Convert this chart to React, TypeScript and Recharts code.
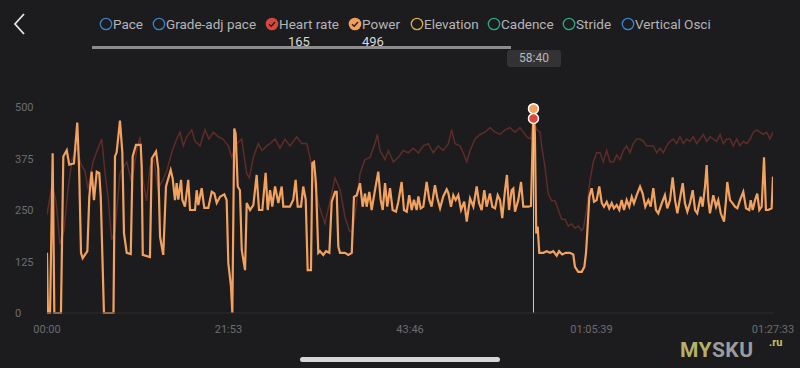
import React from "react";
import {
  LineChart,
  Line,
  XAxis,
  YAxis,
  ReferenceLine,
  ReferenceDot,
} from "recharts";

// [seconds, watts]
const powerSeries: [number, number][] = [
  [0, 146], [7, 0], [22, 0], [41, 388], [53, 0], [101, 0], [118, 380], [143, 395],
  [161, 360], [195, 363], [219, 462], [232, 355], [246, 146], [258, 133], [292, 150],
  [306, 282], [323, 343], [340, 274], [360, 343], [378, 340], [389, 282], [412, 0],
  [481, 0], [492, 380], [504, 390], [528, 467], [545, 390], [557, 194], [577, 146],
  [606, 143], [620, 380], [644, 408], [678, 408], [685, 355], [693, 141], [745, 136],
  [758, 375], [789, 392], [805, 350], [818, 185], [841, 141], [861, 307], [895, 347],
  [909, 327], [926, 274], [938, 315], [950, 275], [970, 323], [979, 275], [998, 258],
  [1022, 323], [1035, 250], [1071, 250], [1083, 298], [1095, 262], [1119, 303],
  [1138, 255], [1167, 255], [1192, 294], [1211, 290], [1228, 267], [1252, 282],
  [1283, 288], [1300, 274], [1312, 121], [1331, 65], [1341, 0], [1355, 448],
  [1365, 435], [1380, 307], [1396, 298], [1409, 153], [1433, 104], [1445, 267],
  [1469, 250], [1493, 262], [1517, 335], [1534, 250], [1558, 250], [1582, 340],
  [1597, 250], [1614, 298], [1630, 258], [1650, 307], [1674, 267], [1698, 307],
  [1710, 258], [1746, 258], [1758, 258], [1782, 275], [1799, 323], [1814, 258],
  [1838, 258], [1854, 307], [1872, 275], [1886, 104], [1910, 104], [1920, 364],
  [1932, 367], [1946, 315], [1963, 146], [1975, 150], [1999, 141], [2019, 150],
  [2043, 146], [2060, 270], [2084, 294], [2096, 294], [2108, 161], [2120, 146],
  [2156, 146], [2180, 141], [2205, 146], [2221, 282], [2241, 286], [2265, 315],
  [2284, 258], [2301, 290], [2313, 258], [2332, 294], [2349, 250], [2373, 298],
  [2397, 343], [2414, 275], [2429, 250], [2446, 315], [2462, 258], [2482, 303],
  [2501, 250], [2525, 246], [2542, 270], [2566, 318], [2583, 250], [2603, 246],
  [2621, 286], [2639, 250], [2655, 275], [2675, 250], [2687, 283], [2704, 254],
  [2723, 258], [2747, 318], [2766, 275], [2783, 258], [2807, 310], [2824, 279],
  [2844, 254], [2867, 283], [2892, 300], [2904, 291], [2923, 258], [2940, 286],
  [2957, 274], [2976, 286], [2996, 250], [3019, 270], [3037, 222], [3061, 278],
  [3085, 258], [3109, 307], [3126, 267], [3145, 250], [3164, 298], [3181, 258],
  [3205, 290], [3222, 258], [3242, 254], [3261, 286], [3278, 274], [3294, 230],
  [3314, 298], [3328, 335], [3343, 250], [3362, 298], [3374, 302], [3386, 246],
  [3410, 274], [3430, 318], [3446, 258], [3482, 258], [3502, 260], [3520, 496],
  [3530, 436], [3540, 193], [3550, 210], [3562, 146], [3591, 146], [3616, 150],
  [3640, 146], [3663, 150], [3688, 139], [3705, 150], [3728, 142], [3753, 146],
  [3784, 146], [3808, 142], [3820, 112], [3844, 100], [3869, 100], [3888, 112],
  [3900, 146], [3909, 194], [3924, 282], [3941, 303], [3958, 270], [3977, 274],
  [3996, 307], [4014, 267], [4030, 258], [4050, 270], [4068, 254], [4086, 267],
  [4102, 254], [4122, 262], [4141, 250], [4158, 274], [4175, 250], [4194, 274],
  [4213, 258], [4231, 282], [4247, 266], [4267, 286], [4291, 307], [4310, 290],
  [4329, 258], [4351, 274], [4368, 258], [4387, 303], [4406, 250], [4423, 242],
  [4448, 266], [4471, 286], [4488, 254], [4508, 274], [4527, 329], [4544, 274],
  [4561, 242], [4580, 278], [4600, 315], [4616, 266], [4633, 246], [4652, 266],
  [4672, 298], [4689, 250], [4705, 242], [4730, 282], [4744, 258], [4761, 307],
  [4773, 359], [4785, 274], [4797, 242], [4821, 286], [4841, 258], [4857, 274],
  [4875, 242], [4899, 222], [4913, 274], [4922, 318], [4942, 274], [4961, 266],
  [4978, 258], [4995, 254], [5014, 274], [5038, 294], [5058, 254], [5081, 250],
  [5092, 274], [5106, 250], [5123, 274], [5139, 290], [5154, 250], [5171, 258],
  [5188, 378], [5202, 250], [5219, 250], [5243, 254], [5253, 331],
];

// [seconds, bpm]
const heartSeries: [number, number][] = [
  [0, 123], [36, 136], [65, 129], [94, 110], [123, 116], [152, 134], [181, 147],
  [217, 152], [246, 145], [275, 142], [297, 134], [333, 146], [369, 152], [396, 156],
  [420, 141], [441, 131], [468, 112], [492, 116], [528, 141], [577, 146], [613, 137],
  [649, 151], [673, 157], [695, 138], [721, 129], [745, 144], [774, 147], [803, 134],
  [837, 138], [866, 142], [902, 150], [938, 156], [962, 159], [986, 153], [1011, 157],
  [1047, 160], [1071, 155], [1107, 153], [1143, 160], [1172, 156], [1203, 159],
  [1239, 157], [1273, 156], [1312, 153], [1336, 148], [1373, 154], [1409, 156],
  [1445, 141], [1464, 139], [1493, 148], [1529, 154], [1556, 151], [1590, 153],
  [1614, 154], [1650, 156], [1686, 152], [1722, 156], [1758, 153], [1807, 157],
  [1843, 154], [1879, 154], [1903, 148], [1927, 139], [1963, 128], [2011, 119],
  [2048, 129], [2084, 139], [2120, 134], [2156, 122], [2187, 116], [2212, 115],
  [2241, 129], [2265, 141], [2301, 147], [2337, 148], [2373, 154], [2390, 158],
  [2409, 151], [2446, 147], [2470, 151], [2506, 146], [2542, 148], [2578, 151],
  [2614, 150], [2650, 152], [2687, 150], [2723, 153], [2759, 154], [2795, 150],
  [2831, 153], [2867, 151], [2904, 154], [2928, 160], [2952, 154], [2988, 153],
  [3012, 150], [3037, 146], [3061, 151], [3097, 156], [3133, 158], [3169, 159],
  [3205, 161], [3242, 159], [3278, 158], [3314, 160], [3350, 161], [3386, 159],
  [3422, 161], [3471, 157], [3500, 156], [3520, 165], [3543, 160], [3567, 159],
  [3584, 151], [3603, 144], [3627, 132], [3652, 129], [3676, 129], [3700, 125],
  [3724, 121], [3748, 121], [3772, 118], [3796, 119], [3820, 117], [3844, 118],
  [3869, 116], [3881, 117], [3905, 125], [3929, 138], [3953, 146], [3977, 150],
  [4001, 150], [4025, 146], [4050, 151], [4074, 146], [4098, 146], [4122, 149],
  [4146, 147], [4170, 151], [4194, 153], [4218, 150], [4242, 154], [4267, 156],
  [4291, 156], [4315, 155], [4339, 153], [4363, 153], [4387, 153], [4412, 150],
  [4435, 152], [4459, 150], [4484, 153], [4508, 155], [4532, 156], [4556, 154],
  [4580, 157], [4604, 154], [4628, 156], [4652, 155], [4676, 157], [4701, 154],
  [4725, 156], [4749, 158], [4773, 155], [4797, 157], [4821, 156], [4845, 155],
  [4870, 158], [4893, 154], [4918, 156], [4942, 156], [4966, 153], [4990, 156],
  [5014, 153], [5038, 155], [5063, 154], [5087, 156], [5111, 159], [5135, 160],
  [5159, 159], [5183, 158], [5207, 159], [5231, 156], [5253, 159],
];

const timeTicks = [0, 1313, 2627, 3940, 5253];
const timeLabels = ["00:00", "21:53", "43:46", "01:05:39", "01:27:33"];
const wattTicks = [0, 125, 250, 375, 500];

const cursorTime = 3520;
const cursorLabel = "58:40";
const cursorPower = 496;
const cursorHeart = 165;

type LegendItem = { name: string; color: string; checked: boolean; left: number };
const legendItems: LegendItem[] = [
  { name: "Pace", color: "#3b82c4", checked: false, left: 99 },
  { name: "Grade-adj pace", color: "#3b82c4", checked: false, left: 152 },
  { name: "Heart rate", color: "#d9463c", checked: true, left: 265 },
  { name: "Power", color: "#f0a05a", checked: true, left: 348 },
  { name: "Elevation", color: "#e0b03c", checked: false, left: 410 },
  { name: "Cadence", color: "#2fa87c", checked: false, left: 487 },
  { name: "Stride", color: "#2fa87c", checked: false, left: 562 },
  { name: "Vertical Osci", color: "#3a84d6", checked: false, left: 621 },
];

const powerData = powerSeries.map(([t, w]) => ({ t, w }));
const heartData = heartSeries.map(([t, bpm]) => ({ t, bpm }));

const font = "Roboto, 'Noto Sans', sans-serif";
const BG = "#1c1c1e";

function YTick(props: any) {
  const { y, payload } = props;
  return (
    <text x={15} y={y} dy={4} fill="#6c6c6e" fontSize={11} fontFamily={font} textAnchor="start">
      {payload.value}
    </text>
  );
}

function LegendDot({ item }: { item: LegendItem }) {
  return (
    <svg width={14} height={14} style={{ position: "absolute", left: item.left, top: 17 }}>
      {item.checked ? (
        <>
          <circle cx={7} cy={7} r={6.3} fill={item.color} />
          <polyline points="4,7.2 6.2,9.3 10,5" fill="none" stroke="#2a1a14" strokeWidth={1.3} />
        </>
      ) : (
        <circle cx={7} cy={7} r={5.7} fill="none" stroke={item.color} strokeWidth={1.3} />
      )}
    </svg>
  );
}

export default function App() {
  return (
    <div
      style={{
        position: "absolute",
        left: 0,
        top: 0,
        width: 800,
        height: 368,
        background: BG,
        overflow: "hidden",
        fontFamily: font,
      }}
    >
      {/* back chevron */}
      <svg width={20} height={24} style={{ position: "absolute", left: 10, top: 12 }}>
        <polyline points="14,2 5,12 14,22" fill="none" stroke="#e6e6e6" strokeWidth={1.8} />
      </svg>

      {legendItems.map((item) => (
        <React.Fragment key={item.name}>
          <LegendDot item={item} />
          <div
            style={{
              position: "absolute",
              left: item.left + 14,
              top: 15,
              fontSize: 13.5,
              color: "#b4b4b6",
              whiteSpace: "nowrap",
              lineHeight: "18px",
            }}
          >
            {item.name}
          </div>
        </React.Fragment>
      ))}

      <div style={{ position: "absolute", left: 288, top: 34, fontSize: 13, color: "#d8d8d8" }}>
        {cursorHeart}
      </div>
      <div style={{ position: "absolute", left: 362, top: 34, fontSize: 13, color: "#d8d8d8" }}>
        {cursorPower}
      </div>

      {/* range slider */}
      <div
        style={{
          position: "absolute",
          left: 92,
          top: 46,
          width: 419,
          height: 3,
          background: "#8c8c8e",
        }}
      />
      <div
        style={{
          position: "absolute",
          left: 507,
          top: 50,
          width: 54,
          height: 17,
          borderRadius: 3,
          background: "#333336",
          color: "#b8b8ba",
          fontSize: 12,
          lineHeight: "17px",
          textAlign: "center",
        }}
      >
        {cursorLabel}
      </div>

      <div style={{ position: "absolute", left: 0, top: 0 }}>
        <LineChart width={800} height={368} margin={{ top: 107, right: 27, bottom: 0, left: 0 }}>
          <XAxis
            type="number"
            dataKey="t"
            domain={[0, 5253]}
            ticks={timeTicks}
            tickFormatter={(v: number) => timeLabels[timeTicks.indexOf(v)] ?? ""}
            height={55}
            axisLine={{ stroke: "#2c2c2f" }}
            tickLine={false}
            tick={{ fill: "#6c6c6e", fontSize: 11, fontFamily: font }}
            tickMargin={6}
            interval={0}
            allowDataOverflow
          />
          <YAxis
            yAxisId="w"
            domain={[0, 500]}
            ticks={wattTicks}
            width={47}
            axisLine={false}
            tickLine={false}
            tick={<YTick />}
            interval={0}
          />
          <YAxis yAxisId="hr" orientation="right" domain={[80, 170]} hide allowDataOverflow />
          <Line
            yAxisId="hr"
            data={heartData}
            dataKey="bpm"
            type="linear"
            stroke="#5e2c29"
            strokeWidth={1.5}
            dot={false}
            isAnimationActive={false}
          />
          <Line
            yAxisId="w"
            data={powerData}
            dataKey="w"
            type="linear"
            stroke="#f2a25e"
            strokeWidth={2.2}
            dot={false}
            isAnimationActive={false}
          />
          <ReferenceLine yAxisId="w" x={cursorTime} stroke="#c8c8ca" strokeWidth={1} />
          <ReferenceDot
            yAxisId="w"
            x={cursorTime}
            y={cursorPower}
            r={5}
            fill="#f2a25e"
            stroke="#ffffff"
            strokeWidth={1.5}
          />
          <ReferenceDot
            yAxisId="hr"
            x={cursorTime}
            y={cursorHeart}
            r={5}
            fill="#d9463c"
            stroke="#ffffff"
            strokeWidth={1.5}
          />
        </LineChart>
      </div>

      {/* home indicator */}
      <div
        style={{
          position: "absolute",
          left: 300,
          top: 357,
          width: 200,
          height: 5,
          borderRadius: 3,
          background: "#d6d6d8",
        }}
      />

      {/* watermark */}
      <div
        style={{
          position: "absolute",
          left: 680,
          top: 339,
          fontSize: 21,
          fontWeight: 700,
          letterSpacing: 0.5,
          color: "#9c9c9c",
          lineHeight: "22px",
        }}
      >
        <span style={{ color: "#b5b06a" }}>MY</span>SKU
      </div>
      <div
        style={{
          position: "absolute",
          left: 769,
          top: 337,
          fontSize: 11,
          fontWeight: 700,
          color: "#c8c060",
          lineHeight: "11px",
        }}
      >
        .ru
      </div>
    </div>
  );
}
